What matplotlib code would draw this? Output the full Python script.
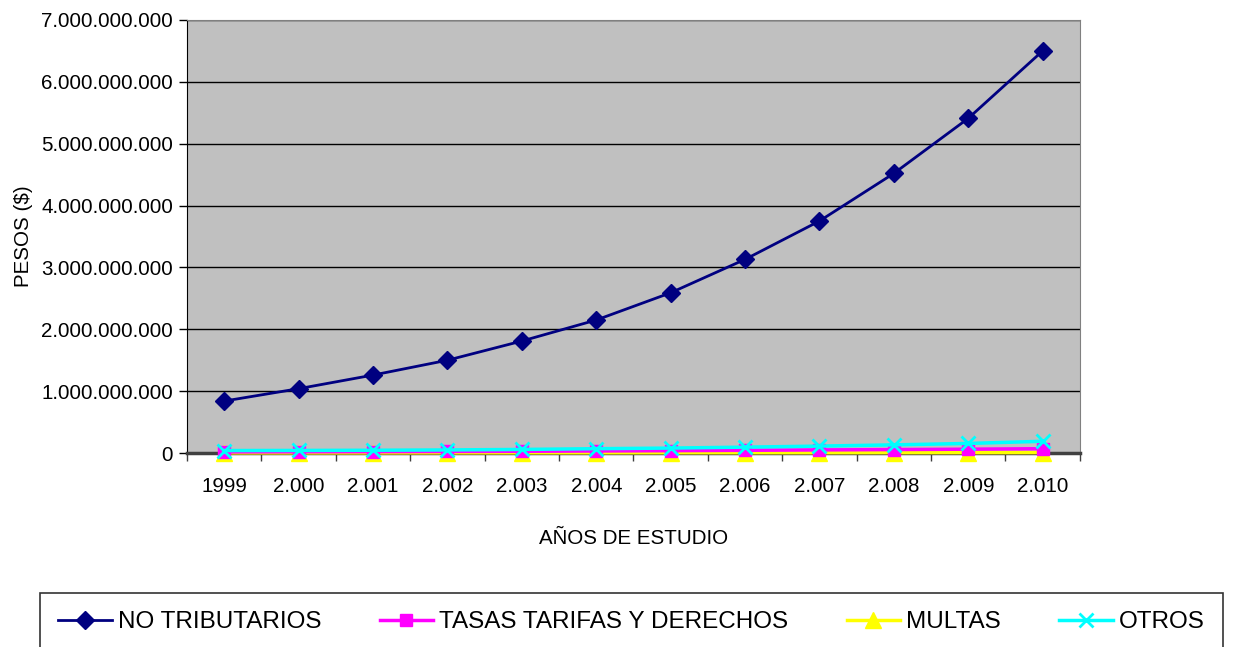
import matplotlib.pyplot as plt
from matplotlib.ticker import FuncFormatter

plt.rcParams['font.family'] = ['Liberation Sans', 'DejaVu Sans']

# Años del estudio y recaudo por concepto (pesos)
years = ['1999', '2.000', '2.001', '2.002', '2.003', '2.004',
         '2.005', '2.006', '2.007', '2.008', '2.009', '2.010']
no_tributarios = [840e6, 1040e6, 1260e6, 1500e6, 1810e6, 2150e6,
                  2590e6, 3130e6, 3750e6, 4520e6, 5410e6, 6500e6]
tasas = [18e6, 20e6, 22e6, 25e6, 28e6, 33e6, 38e6, 44e6, 50e6, 56e6, 62e6, 70e6]
multas = [3e6, 3e6, 3e6, 4e6, 4e6, 4e6, 5e6, 5e6, 5e6, 6e6, 6e6, 7e6]
otros = [40e6, 42e6, 45e6, 50e6, 58e6, 70e6, 80e6, 95e6, 112e6, 132e6, 155e6, 190e6]

fig = plt.figure(figsize=(12.37, 6.47), dpi=100)
ax = fig.add_axes([0.1512, 0.2998, 0.7218, 0.6694])
ax.set_facecolor('#C0C0C0')

x = list(range(1, len(years) + 1))
ax.plot(x, no_tributarios, color='#000080', marker='D', markersize=9, lw=2,
        label='NO TRIBUTARIOS', zorder=5, clip_on=False)
ax.plot(x, tasas, color='#FF00FF', marker='s', markersize=9, lw=2.5,
        label='TASAS TARIFAS Y DERECHOS', zorder=4, clip_on=False)
ax.plot(x, multas, color='#FFFF00', marker='^', markersize=11, lw=2.5,
        label='MULTAS', zorder=3, clip_on=False)
ax.plot(x, otros, color='#00FFFF', marker='x', markersize=10, mew=2, lw=2.5,
        label='OTROS', zorder=6, clip_on=False)

ax.set_xlim(0.5, len(years) + 0.5)
ax.set_ylim(0, 7e9)
ax.set_yticks([i * 1e9 for i in range(8)])
ax.yaxis.set_major_formatter(FuncFormatter(lambda v, p: f'{int(v):,}'.replace(',', '.')))
ax.grid(axis='y', color='black', lw=1)
ax.set_axisbelow(True)

# category ticks at the boundaries, labels centred
ax.set_xticks([i + 0.5 for i in range(len(years) + 1)])
ax.set_xticklabels([])
ax.set_xticks(x, minor=True)
ax.set_xticklabels(years, minor=True)
ax.tick_params(axis='x', which='minor', length=0, pad=17, labelsize=14.8)
ax.tick_params(axis='x', which='major', length=6, width=1, color='#404040')
ax.tick_params(axis='y', length=6, width=1, labelsize=14.8, pad=4)

for s in ['top', 'right']:
    ax.spines[s].set_color('#808080')
ax.spines['left'].set_color('black')
ax.spines['bottom'].set_color('#404040')
ax.spines['bottom'].set_linewidth(2.5)

ax.set_xlabel('AÑOS DE ESTUDIO', fontsize=14.8, labelpad=24)
ax.set_ylabel('PESOS ($)', fontsize=14.8, labelpad=6)

leg = fig.legend(loc='upper left', bbox_to_anchor=(40 / 1237, 1 - 593 / 647),
                 borderaxespad=0, ncol=4, fontsize=17.5, frameon=True, fancybox=False,
                 handlelength=2.2, handletextpad=0.25, columnspacing=2.4,
                 borderpad=0.75)
leg.get_frame().set_edgecolor('black')
leg.get_frame().set_linewidth(1.2)

fig.savefig('out.png', dpi=100)
